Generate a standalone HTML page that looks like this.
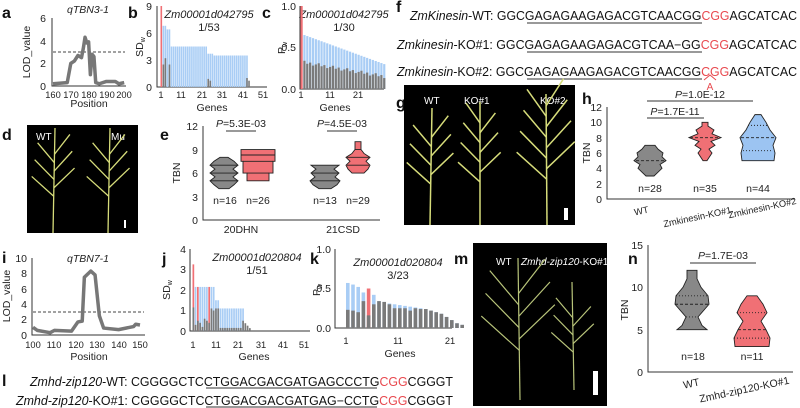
<!DOCTYPE html>
<html><head><meta charset="utf-8"><style>
body{margin:0;background:#fff}
svg{display:block;font-family:"Liberation Sans",Arial,sans-serif}
.t{font-size:10.5px;fill:#222}
.tx{font-size:9.3px;fill:#222}
.L{font-size:16px;font-weight:bold;fill:#111}
.s{font-size:12.5px;fill:#111}
.r{fill:#e8494f}
</style></head><body>
<svg id="s" width="800" height="408" viewBox="0 0 800 408" xmlns="http://www.w3.org/2000/svg">
<!-- letters -->
<text class="L" x="2" y="18">a</text><text class="L" x="128" y="18">b</text><text class="L" x="262" y="18">c</text><text class="L" x="396" y="12">f</text>
<text class="L" x="2" y="140">d</text><text class="L" x="160" y="140">e</text><text class="L" x="396" y="108">g</text><text class="L" x="582" y="104">h</text>
<text class="L" x="2" y="263">i</text><text class="L" x="162" y="264">j</text><text class="L" x="310" y="264">k</text><text class="L" x="454" y="264">m</text><text class="L" x="628" y="264">n</text><text class="L" x="2" y="386">l</text>

<!-- a -->
<text class="t" x="88" y="13" text-anchor="middle" font-style="italic">qTBN3-1</text>
<g stroke="#333" stroke-width="1" fill="none"><path d="M52,18V86H126"/></g>
<g class="t" text-anchor="end"><text x="46" y="22">6</text><text x="46" y="45">4</text><text x="46" y="67">2</text><text x="46" y="90">0</text></g>
<g class="tx" text-anchor="middle"><text x="53" y="98">160</text><text x="71" y="98">170</text><text x="89" y="98">180</text><text x="107" y="98">190</text><text x="124" y="98">200</text></g>
<text class="t" x="89" y="107" text-anchor="middle">Position</text>
<text class="t" transform="translate(30,52) rotate(-90)" text-anchor="middle">LOD_value</text>
<line x1="53" y1="52" x2="125" y2="52" stroke="#444" stroke-dasharray="3,2"/>
<polyline id="la" fill="none" stroke="#777" stroke-width="3.5" stroke-linejoin="round"/>

<!-- b -->
<g stroke="#333" fill="none"><path d="M157,6V87H267"/></g>
<g class="t" text-anchor="end"><text x="152" y="10">9</text><text x="152" y="37">6</text><text x="152" y="64">3</text><text x="152" y="91">0</text></g>
<g class="tx" text-anchor="middle"><text x="161" y="98">1</text><text x="181" y="98">11</text><text x="202" y="98">21</text><text x="222" y="98">31</text><text x="243" y="98">41</text><text x="263" y="98">51</text></g>
<text class="t" x="212" y="111" text-anchor="middle">Genes</text>
<text class="t" transform="translate(143,47) rotate(-90)" text-anchor="middle">SD<tspan font-size="7" dy="2">w</tspan></text>
<text x="209" y="18" font-size="11" font-style="italic" text-anchor="middle" fill="#222">Zm00001d042795</text>
<text x="209" y="31" font-size="11" text-anchor="middle" fill="#222">1/53</text>
<g id="gb"></g>

<!-- c -->
<g stroke="#333" fill="none"><path d="M300,6V89H384"/></g>
<g class="t" text-anchor="end"><text x="296" y="10">1.0</text><text x="296" y="51">0.5</text><text x="296" y="93">0.0</text></g>
<g class="tx" text-anchor="middle"><text x="301" y="98">1</text><text x="330" y="98">11</text><text x="358" y="98">21</text></g>
<text class="t" x="335" y="111" text-anchor="middle">Genes</text>
<text class="t" transform="translate(285,48) rotate(-90)" text-anchor="middle">P<tspan font-size="7" dy="2">w</tspan></text>
<text x="344" y="18" font-size="11" font-style="italic" text-anchor="middle" fill="#222">Zm00001d042795</text>
<text x="344" y="31" font-size="11" text-anchor="middle" fill="#222">1/30</text>
<g id="gc"></g>

<!-- f -->
<g class="s">
<text x="410" y="20" textLength="387" lengthAdjust="spacingAndGlyphs"><tspan font-style="italic">ZmKinesin</tspan>-WT: GGCGAGAGAAGAGACGTCAACGG<tspan class="r">CGG</tspan>AGCATCAC</text>
<text x="397" y="49" textLength="400" lengthAdjust="spacingAndGlyphs"><tspan font-style="italic">Zmkinesin</tspan>-KO#1: GGCGAGAGAAGAGACGTCAA−GG<tspan class="r">CGG</tspan>AGCATCAC</text>
<text x="397" y="76" textLength="400" lengthAdjust="spacingAndGlyphs"><tspan font-style="italic">Zmkinesin</tspan>-KO#2: GGCGAGAGAAGAGACGTCAACGG<tspan class="r">CGG</tspan>AGCATCAC</text>
</g>
<g stroke="#333" stroke-width="1"><line x1="527" y1="23" x2="702" y2="23"/><line x1="527" y1="52" x2="702" y2="52"/><line x1="527" y1="79" x2="702" y2="79"/></g>
<path d="M704,80 L710,75 L716,80" stroke="#e8494f" fill="none"/>
<text x="710" y="90" font-size="10" class="r" text-anchor="middle">A</text>

<!-- d photo -->
<rect x="27" y="125" width="111" height="108" fill="#000"/>
<text x="36" y="140" font-size="10" fill="#fff">WT</text><text x="111" y="140" font-size="10" fill="#fff">Mu</text>
<rect x="124" y="220" width="2" height="8" fill="#fff"/>
<g id="gd" stroke="#d6dc7a" stroke-width="1.3" fill="none"></g>

<!-- e -->
<g stroke="#333" fill="none"><path d="M203,126V220H380"/><line x1="226" y1="131" x2="256" y2="131"/><line x1="327" y1="131" x2="357" y2="131"/></g>
<g class="t" text-anchor="end"><text x="198" y="130">12</text><text x="198" y="154">9</text><text x="198" y="177">6</text><text x="198" y="201">3</text><text x="198" y="224">0</text></g>
<text class="t" transform="translate(180,173) rotate(-90)" text-anchor="middle">TBN</text>
<g class="t" text-anchor="middle"><text x="241" y="127"><tspan font-style="italic">P</tspan>=5.3E-03</text><text x="342" y="127"><tspan font-style="italic">P</tspan>=4.5E-03</text>
<text x="225" y="204">n=16</text><text x="258" y="204">n=26</text><text x="325" y="204">n=13</text><text x="358" y="204">n=29</text>
<text x="241" y="233">20DHN</text><text x="343" y="233">21CSD</text></g>
<g id="ge"></g>

<!-- g photo -->
<rect x="404" y="85" width="171" height="140" fill="#000"/>
<text x="424" y="104" font-size="10" fill="#fff">WT</text><text x="464" y="104" font-size="10" fill="#fff">KO#1</text><text x="540" y="104" font-size="10" fill="#fff">KO#2</text>
<rect x="564" y="208" width="4" height="12" fill="#fff"/>
<g id="gg" stroke="#d6dc7a" stroke-width="1.5" fill="none"></g>

<!-- h -->
<g stroke="#333" fill="none"><path d="M607,107V199H795"/><line x1="647" y1="101" x2="753" y2="101"/><line x1="647" y1="118" x2="704" y2="118"/></g>
<g class="t" text-anchor="end"><text x="602" y="111">12</text><text x="602" y="126">10</text><text x="602" y="142">8</text><text x="602" y="157">6</text><text x="602" y="172">4</text><text x="602" y="188">2</text><text x="602" y="203">0</text></g>
<text class="t" transform="translate(590,153) rotate(-90)" text-anchor="middle">TBN</text>
<g class="t" text-anchor="middle"><text x="700" y="98"><tspan font-style="italic">P</tspan>=1.0E-12</text><text x="675" y="115"><tspan font-style="italic">P</tspan>=1.7E-11</text>
<text x="650" y="192">n=28</text><text x="705" y="192">n=35</text><text x="758" y="192">n=44</text></g>
<g text-anchor="middle" font-size="9.3" fill="#222"><text x="642" y="214" transform="rotate(-12 642 214)">WT</text>
<text x="698" y="220" transform="rotate(-12 698 220)">Zmkinesin-KO#1</text>
<text x="763" y="211" transform="rotate(-12 763 211)">Zmkinesin-KO#2</text></g>
<g id="gh"></g>

<!-- i -->
<text class="t" x="88" y="262" text-anchor="middle" font-style="italic">qTBN7-1</text>
<g stroke="#333" fill="none"><path d="M32,258V335H145"/></g>
<g class="t" text-anchor="end"><text x="27" y="262">10</text><text x="27" y="277">8</text><text x="27" y="293">6</text><text x="27" y="308">4</text><text x="27" y="323">2</text><text x="27" y="339">0</text></g>
<g class="tx" text-anchor="middle"><text x="33" y="348">100</text><text x="54" y="348">110</text><text x="76" y="348">120</text><text x="97" y="348">130</text><text x="119" y="348">140</text><text x="140" y="348">150</text></g>
<text class="t" x="89" y="360" text-anchor="middle">Position</text>
<text class="t" transform="translate(10,296) rotate(-90)" text-anchor="middle">LOD_value</text>
<line x1="33" y1="312" x2="144" y2="312" stroke="#444" stroke-dasharray="3,2"/>
<polyline id="li" fill="none" stroke="#777" stroke-width="3.5" stroke-linejoin="round"/>

<!-- j -->
<g stroke="#333" fill="none"><path d="M190,249V331H310"/></g>
<g class="t" text-anchor="end"><text x="186" y="253">4</text><text x="186" y="273">3</text><text x="186" y="294">2</text><text x="186" y="314">1</text><text x="186" y="335">0</text></g>
<g class="tx" text-anchor="middle"><text x="193" y="348">1</text><text x="216" y="348">11</text><text x="238" y="348">21</text><text x="261" y="348">31</text><text x="283" y="348">41</text><text x="304" y="348">51</text></g>
<text class="t" x="254" y="360" text-anchor="middle">Genes</text>
<text class="t" transform="translate(170,290) rotate(-90)" text-anchor="middle">SD<tspan font-size="7" dy="2">w</tspan></text>
<text x="257" y="261" font-size="11" font-style="italic" text-anchor="middle" fill="#222">Zm00001d020804</text>
<text x="257" y="274" font-size="11" text-anchor="middle" fill="#222">1/51</text>
<g id="gj"></g>

<!-- k -->
<g stroke="#333" fill="none"><path d="M335,249V328H452"/></g>
<g class="t" text-anchor="end"><text x="331" y="253">1.0</text><text x="331" y="292">0.5</text><text x="331" y="332">0.0</text></g>
<g class="tx" text-anchor="middle"><text x="346" y="344">1</text><text x="398" y="344">11</text><text x="450" y="344">21</text></g>
<text class="t" x="400" y="357" text-anchor="middle">Genes</text>
<text class="t" transform="translate(320,290) rotate(-90)" text-anchor="middle">P<tspan font-size="7" dy="2">w</tspan></text>
<text x="398" y="266" font-size="11" font-style="italic" text-anchor="middle" fill="#222">Zm00001d020804</text>
<text x="398" y="279" font-size="11" text-anchor="middle" fill="#222">3/23</text>
<g id="gk"></g>

<!-- l -->
<g class="s">
<text x="30" y="386" textLength="423" lengthAdjust="spacingAndGlyphs"><tspan font-style="italic">Zmhd-zip120</tspan>-WT: CGGGGCTCCTGGACGACGATGAGCCCTG<tspan class="r">CGG</tspan>CGGGT</text>
<text x="16" y="405" textLength="437" lengthAdjust="spacingAndGlyphs"><tspan font-style="italic">Zmhd-zip120</tspan>-KO#1: CGGGGCTCCTGGACGACGATGAG−CCTG<tspan class="r">CGG</tspan>CGGGT</text>
</g>
<g stroke="#333"><line x1="206" y1="388" x2="377" y2="388"/><line x1="206" y1="407" x2="377" y2="407"/></g>

<!-- m photo -->
<rect x="473" y="243" width="134" height="163" fill="#000"/>
<text x="496" y="265" font-size="10" fill="#fff">WT</text><text x="521" y="265" font-size="10" fill="#fff"><tspan font-style="italic">Zmhd-zip120</tspan>-KO#1</text>
<rect x="593" y="371" width="5" height="24" fill="#fff"/>
<g id="gm" stroke="#b8c47a" stroke-width="1.2" fill="none"></g>

<!-- n -->
<g stroke="#333" fill="none"><path d="M648,245V372H793"/><line x1="690" y1="263" x2="756" y2="263"/></g>
<g class="t" text-anchor="end"><text x="643" y="249">15</text><text x="643" y="291">10</text><text x="643" y="334">5</text><text x="643" y="376">0</text></g>
<text class="t" transform="translate(628,310) rotate(-90)" text-anchor="middle">TBN</text>
<g class="t" text-anchor="middle"><text x="723" y="259"><tspan font-style="italic">P</tspan>=1.7E-03</text><text x="693" y="360">n=18</text><text x="752" y="360">n=11</text></g>
<g class="t" text-anchor="middle"><text x="692" y="387" transform="rotate(-12 692 387)">WT</text>
<text x="745" y="393" transform="rotate(-12 745 393)">Zmhd-zip120-KO#1</text></g>
<g id="gn"></g>
</svg>
<script>
var NS="http://www.w3.org/2000/svg";
function el(p,t,a){var e=document.createElementNS(NS,t);for(var k in a)e.setAttribute(k,a[k]);document.getElementById(p).appendChild(e);return e;}
var BL="#a9cdf5",GR="#7a7a7a",RD="#f07075";
function pts(id,arr,fx,fy){document.getElementById(id).setAttribute("points",arr.map(function(p){return fx(p[0])+","+fy(p[1])}).join(" "));}
pts("la",[[160,.2],[168,.3],[170,2],[172,2.2],[174,2.7],[176,2.5],[177,3.3],[178,4.3],[179,3.8],[180,3.9],[181,1],[182,2.8],[183,2.6],[184,.3],[186,.2],[190,.4],[195,.4],[197,.2],[200,.3]],function(p){return 53+(p-160)*1.78},function(v){return 86-v*11.33});
pts("li",[[100,1],[102,.6],[108,.3],[110,.6],[118,.5],[121,1.7],[123,1.8],[124,7.5],[127,8.3],[129,7.8],[131,2.5],[133,.9],[140,.7],[147,1.1],[148,1.4],[150,1.3]],function(p){return 33+(p-100)*2.14},function(v){return 335-v*7.7});
function bars(g,n,fx,w,fy,base,blue,gray,red){for(var i=1;i<=n;i++){var b=blue(i);if(b>0){el(g,"rect",{x:fx(i),y:fy(b),width:w,height:base-fy(b),fill:red.indexOf(i)>=0?RD:BL});}var q=gray(i);if(q>0)el(g,"rect",{x:fx(i),y:fy(q),width:w,height:base-fy(q),fill:GR});}}
bars("gb",53,function(i){return 160.5+(i-1)*2.04},1.6,function(v){return 87-v*9},87,
 function(i){return i==1?9:i<=3?6.8:i<=5?6.4:i<=23?4.5:i<=43?(i<27?3.7:3.5):0},
 function(i){return [0,0,2.5,3.2,0,2.5][i]||(i==24?.9:i==25?.7:i==43?1:i==44?.7:0)},[1]);
bars("gc",30,function(i){return 300.5+(i-1)*2.85},2.2,function(v){return 89-v*83},89,
 function(i){return i==1?1:0.65-(i-2)*0.0125},
 function(i){return i==1?0:0.32-(i-2)*0.006+((i*7)%5-2)*0.01},[1]);
bars("gj",51,function(i){return 192.5+(i-1)*2.26},1.7,function(v){return 331-v*20.5},331,
 function(i){return i==1?3.25:i<=10?2.15:i<=12?1.5:i<=23?1.1:0},
 function(i){return i==1?1.15:i<=10?[0,.3,.5,.4,.2,.6,.5,.4,1.1,1.0][i-1]:i<=12?1.1:i<=22?.15:i<=26?.5-(i-23)*.12:0},[1,3,8]);
bars("gk",23,function(i){return 346+(i-1)*5.2},3.6,function(v){return 328-v*79},328,
 function(i){return [.57,.55,.52,.45,.5,.42,.34,.33,.31,.3,.29,.28,.27,.26,.25,.24,.22,.2,.18,.14,.1,.06,.04][i-1]},
 function(i){return [.23,.22,.2,.34,.16,.3,.34,.33,.3,.25,.25,.25,.22,.25,.24,.24,.22,.2,.18,.14,.1,.06,.04][i-1]},[5]);
function violin(g,cx,fy,prof,fill,dash){var L=[],R=[];prof.forEach(function(p){R.push((cx+p[1])+","+fy(p[0]));L.unshift((cx-p[1])+","+fy(p[0]));});
 el(g,"polygon",{points:R.concat(L).join(" "),fill:fill,stroke:"#222","stroke-width":0.9});
 (dash||[]).forEach(function(d){el(g,"line",{x1:cx-d[1],x2:cx+d[1],y1:fy(d[0]),y2:fy(d[0]),stroke:"#222","stroke-width":0.9,"stroke-dasharray":d[2]||"3,2"})});}
var fe=function(v){return 220-v*7.83};
violin("ge",224,fe,[[4,5],[4.5,10],[5,14],[5.5,9],[6,14],[6.5,9],[7,14],[7.5,10],[8,4]],"#888",[[5,13,"0"],[6,13,"0"],[7,13,"0"]]);
violin("ge",258,fe,[[5,11],[6,11],[6,15],[7.5,15],[7.5,17],[9,17]],RD,[[6,11,"0"],[7.5,15,"0"],[8.3,17,"0"]]);
violin("ge",325,fe,[[4,6],[4.5,12],[5,15],[5.5,10],[6,14],[6.5,9],[7,14]],"#888",[[5,14,"0"],[6,13,"0"]]);
violin("ge",358,fe,[[6,6],[6.5,10],[7,12],[7.5,8],[8,12],[8.5,6],[9,3],[10,3]],RD,[[7,11,"0"],[8,11,"0"],[9,3,"0"]]);
var fh=function(v){return 199-v*7.67};
violin("gh",650,fh,[[3,4],[3.5,8],[4,12],[4.5,10],[5,16],[5.5,12],[6,13],[6.5,8],[7,5]],"#888",[[5,14]]);
violin("gh",705,fh,[[5,2],[6,7],[6.5,4],[7,10],[7.5,6],[8,16],[8.5,7],[9,9],[9.5,3],[10,3]],RD,[[8,15]]);
violin("gh",758,fh,[[5,16],[6,17],[7,15],[8,18],[9,12],[10,8],[11,3]],"#9cc4f2",[[6.3,15,"1,2"],[8,17],[9.6,10,"1,2"]]);
var fn=function(v){return 372-v*8.47};
violin("gn",692,fn,[[5,15],[5.5,10],[6.5,6],[8,17],[9,16],[10,9],[11,5],[12,5]],"#888",[[6.5,6,"1,2"],[8,17],[9,16,"1,2"]]);
violin("gn",752,fn,[[3,17],[4,18],[5,14],[6,9],[7,15],[8,11],[9,5]],RD,[[4,18,"1,2"],[5,14],[7,15,"1,2"]]);
function panicle(g,bx,by,tx,ty,branches,len){el(g,"line",{x1:bx,y1:by,x2:tx,y2:ty});for(var k=0;k<branches;k++){var f=0.35+k*0.08;var sx=bx+(tx-bx)*f,sy=by+(ty-by)*f;var s=k%2?1:-1;el(g,"line",{x1:sx,y1:sy,x2:sx+s*len*(1-k*0.06),y2:sy-len*0.9});}}
panicle("gd",53,233,55,128,6,22);panicle("gd",108,233,110,128,6,22);
panicle("gg",430,225,432,108,6,24);panicle("gg",480,225,480,102,7,22);panicle("gg",547,225,546,94,8,30);
panicle("gm",520,400,518,258,6,38);panicle("gm",574,390,572,282,5,22);
</script>
</body></html>
